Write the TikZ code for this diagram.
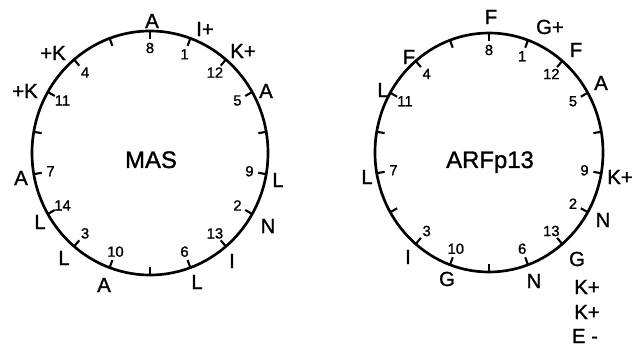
\documentclass[tikz,border=0pt]{standalone}
\usepackage{fontspec}
\setmainfont{Liberation Sans}[FakeBold=1.2]
\begin{document}
\begin{tikzpicture}[x=0.025cm, y=0.025cm,
		wheel/.style={line width=1.9pt},
		tck/.style={line width=1.5pt},
		res/.style={font=\fontsize{14.5}{16}\selectfont, inner sep=0pt},
		num/.style={font=\fontsize{10.5}{12}\selectfont, inner sep=0pt},
		ttl/.style={font=\fontsize{17}{19}\selectfont, anchor=base, inner sep=0pt}]
		\useasboundingbox (0,0) rectangle (634,347);
		% MAS wheel: 18 positions, 100 degrees per residue
		\begin{scope}[shift={(150,194)}]
			\draw[wheel] (0,0) ellipse [x radius=118, y radius=122];
			\foreach \a in {10,30,...,350}
				\draw[tck] (\a:118 and 122) -- (\a:110 and 114);
			\foreach \n in {1,...,14} {
				\pgfmathsetmacro\a{90-100*(\n-8)}
				\node[num] (m\n) at (\a:101 and 105) {\n};
			}
		\end{scope}
		\node[ttl] (mas) at (151,179) {MAS};
		% residues round the MAS wheel
		\node[res] (mr8)  at (152,326) {A};
		\node[res] (mr1)  at (205,318) {I+};
		\node[res] (mr12) at (243,296) {K+};
		\node[res] (mr5)  at (266,256) {A};
		\node[res] (mr9)  at (278,167) {L};
		\node[res] (mr2)  at (268,121) {N};
		\node[res] (mr13) at (232,86)  {I};
		\node[res] (mr6)  at (197,65)  {L};
		\node[res] (mr10) at (104,62)  {A};
		\node[res] (mr3)  at (64,89)   {L};
		\node[res] (mr14) at (40,125)  {L};
		\node[res] (mr7)  at (21,169)  {A};
		\node[res] (mr11) at (25,256)  {+K};
		\node[res] (mr4)  at (53,294)  {+K};
		% ARFp13 wheel
		\begin{scope}[shift={(489,194.5)}]
			\draw[wheel] (0,0) ellipse [x radius=114, y radius=119.5];
			\foreach \a in {10,30,...,350}
				\draw[tck] (\a:114 and 119.5) -- (\a:106 and 111.5);
			\foreach \n in {1,...,13} {
				\pgfmathsetmacro\a{90-100*(\n-8)}
				\node[num] (a\n) at (\a:97 and 102.5) {\n};
			}
		\end{scope}
		\node[ttl] (arf) at (490,179) {ARFp13};
		% residues round the ARFp13 wheel
		\node[res] (ar8)  at (491,330) {F};
		\node[res] (ar1)  at (550,320) {G+};
		\node[res] (ar12) at (576,297) {F};
		\node[res] (ar5)  at (601,264) {A};
		\node[res] (ar9)  at (620,170) {K+};
		\node[res] (ar2)  at (603,127) {N};
		\node[res] (ar13) at (577,88)  {G};
		\node[res] (ar6)  at (534,66)  {N};
		\node[res] (ar10) at (447,68)  {G};
		\node[res] (ar3)  at (408,90)  {I};
		\node[res] (ar7)  at (367,170) {L};
		\node[res] (ar11) at (383,257) {L};
		\node[res] (ar4)  at (409,290) {F};
		% tail residues listed below
		\node[res] (ar14) at (587,60)  {K+};
		\node[res] (ar15) at (587,35)  {K+};
		\node[res] (ar16) at (585,11)  {E -};
	\end{tikzpicture}
\end{document}
